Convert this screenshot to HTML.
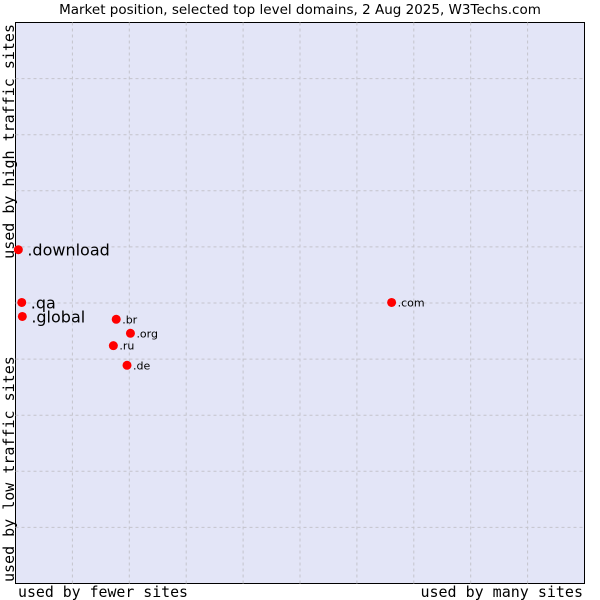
<!DOCTYPE html>
<html><head><meta charset="utf-8"><style>body{margin:0;background:#fff}svg{display:block}</style></head>
<body>
<svg id="c" width="600" height="600" xmlns="http://www.w3.org/2000/svg">
<text x="300" y="14" text-anchor="middle" font-family="DejaVu Sans, sans-serif" font-size="13.5">Market position, selected top level domains, 2 Aug 2025, W3Techs.com</text>
<rect x="15.5" y="22.5" width="569" height="561" fill="#e3e5f7" stroke="#000" stroke-width="1"/>
<g id="grid"></g>
<g id="pts"></g>
<text x="18" y="597" font-family="DejaVu Sans Mono, monospace" font-size="15" textLength="170" lengthAdjust="spacingAndGlyphs">used by fewer sites</text>
<text x="583" y="597" text-anchor="end" font-family="DejaVu Sans Mono, monospace" font-size="15">used by many sites</text>
<text transform="translate(14,582) rotate(-90)" font-family="DejaVu Sans Mono, monospace" font-size="15">used by low traffic sites</text>
<text transform="translate(14,24) rotate(-90)" text-anchor="end" font-family="DejaVu Sans Mono, monospace" font-size="15">used by high traffic sites</text>
</svg>
<script>
const domains = [".download", ".qa", ".global", ".br", ".org", ".ru", ".de", ".com"];
const xValues = [0.5, 1.1, 1.2, 17.7, 20.2, 17.2, 19.6, 66.1];
const yValues = [59.5, 50.1, 47.6, 47.1, 44.6, 42.4, 38.9, 50.1];
const bigLabel = [true, true, true, false, false, false, false, false];
const L=15.5,R=584.5,T=22.5,B=583.5;
const sx=v=>L+(R-L)*v/100, sy=v=>B-(B-T)*v/100;
const ns="http://www.w3.org/2000/svg";
const g=document.getElementById('grid');
for(let i=1;i<10;i++){
  const v=document.createElementNS(ns,'line');
  
  
  v.setAttribute('x1',sx(i*10));v.setAttribute('x2',sx(i*10));v.setAttribute('y1',T);v.setAttribute('y2',B);
  v.setAttribute('stroke','#c4c4cc');v.setAttribute('stroke-dasharray','3,3');g.appendChild(v);
  const h=document.createElementNS(ns,'line');
  
  
  h.setAttribute('y1',sy(i*10));h.setAttribute('y2',sy(i*10));h.setAttribute('x1',L);h.setAttribute('x2',R);
  h.setAttribute('stroke','#c4c4cc');h.setAttribute('stroke-dasharray','3,3');g.appendChild(h);
}
const p=document.getElementById('pts');
domains.forEach((d,i)=>{
  const x=sx(xValues[i]),y=sy(yValues[i]);
  const c=document.createElementNS(ns,'circle');
  
  
  c.setAttribute('cx',x);c.setAttribute('cy',y);c.setAttribute('r',4.5);c.setAttribute('fill','#f00');p.appendChild(c);
  const t=document.createElementNS(ns,'text');
  
  
  t.setAttribute('x',x+(bigLabel[i]?9:6));t.setAttribute('y',y+(bigLabel[i]?6:4));
  t.setAttribute('font-family','DejaVu Sans, sans-serif');t.setAttribute('font-size',bigLabel[i]?16:11);
  t.textContent=d;p.appendChild(t);
});
</script>
</body></html>
